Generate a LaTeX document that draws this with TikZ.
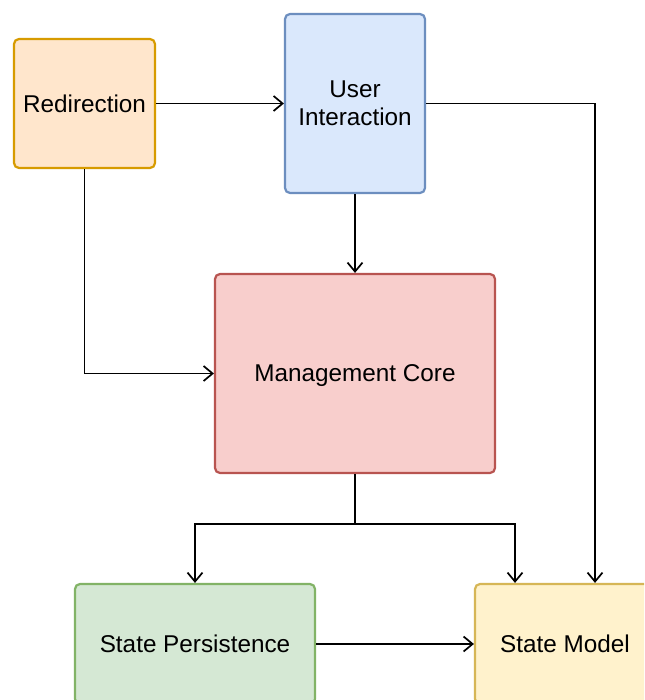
\documentclass[tikz,border=0pt]{standalone}
\usepackage{fontspec}
\setmainfont{Liberation Sans}
\usetikzlibrary{arrows.meta,calc}

\definecolor{orfill}{HTML}{FFE6CC}\definecolor{ordraw}{HTML}{D79B00}
\definecolor{blfill}{HTML}{DAE8FC}\definecolor{bldraw}{HTML}{6C8EBF}
\definecolor{rdfill}{HTML}{F8CECC}\definecolor{rddraw}{HTML}{B85450}
\definecolor{grfill}{HTML}{D5E8D4}\definecolor{grdraw}{HTML}{82B366}
\definecolor{ylfill}{HTML}{FFF2CC}\definecolor{yldraw}{HTML}{D6B656}

\tikzset{
  box/.style={draw, rounded corners=5pt, line width=2.2pt, align=center,
    inner sep=0pt, font=\fontsize{24.3}{28}\selectfont},
  wire/.style={line width=1.7pt},
  conn/.style={wire, -{Straight Barb[length=9pt,width=15pt,line width=1.7pt]}}
}

\begin{document}
\begin{tikzpicture}[x=1pt,y=-1pt]
  \useasboundingbox (0,0) rectangle (644,700);
  \clip (0,0) rectangle (644,700);
  \fill[white] (0,0) rectangle (644,700);

  % components
  \node[box, fill=orfill, draw=ordraw, minimum width=141pt, minimum height=129pt]
    (redir) at (84.5,103.5) {Redirection};
  \node[box, fill=blfill, draw=bldraw, minimum width=140pt, minimum height=179pt]
    (ui) at (355,103.5) {User\\Interaction};
  \node[box, fill=rdfill, draw=rddraw, minimum width=280pt, minimum height=199pt,
    text depth=0pt] (core) at (355,373.5) {Management Core};
  \node[box, fill=grfill, draw=grdraw, minimum width=240pt, minimum height=120pt]
    (persist) at (195,644) {State Persistence};
  \node[box, fill=ylfill, draw=yldraw, minimum width=180pt, minimum height=120pt]
    (model) at (565,644) {State Model};

  % connections
  \coordinate (split) at ($(core.south)+(0,50)$);
  \draw[conn] (redir.east) -- (ui.west);
  \draw[conn] (ui.east) -| ([xshift=30pt]model.north);
  \draw[conn] (ui.south) -- (core.north);
  \draw[conn] (redir.south) |- (core.west);
  \draw[wire] (core.south) -- (split);
  \draw[conn] (split) -| (persist.north);
  \draw[conn] (split) -| ([xshift=-50pt]model.north);
  \draw[conn] (persist.east) -- (model.west);
\end{tikzpicture}
\end{document}
